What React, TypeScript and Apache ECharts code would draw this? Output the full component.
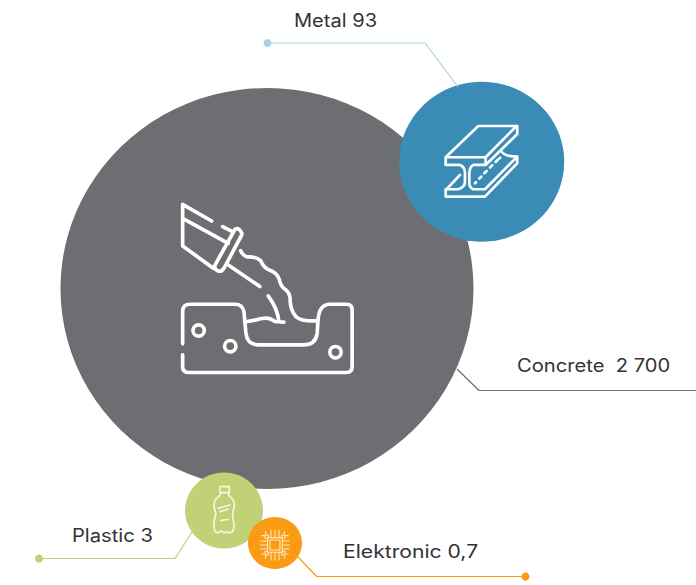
import React, { useEffect, useRef } from "react";
import * as echarts from "echarts";

const W = 696;
const H = 585;

// Data
const materials = ["Concrete", "Metal", "Plastic", "Elektronic"];
const quantities = [2700, 93, 3, 0.7];
const valueLabels = ["2 700", "93", "3", "0,7"];
const labelSeparators = ["  ", " ", " ", " "];

// Layout
const centerX = [267, 481.7, 224, 275];
const centerY = [288.5, 161.7, 510.5, 543];
const widths = [413, 165, 78, 54];
const heights = [401, 160, 76, 52];
const colors = ["#6d6e71", "#3a8bb5", "#c1d176", "#fa9b13"];
const lineColors = ["#6d6e71", "#a5d3e6", "#c1d176", "#fa9b13"];
const connectors = [
  [[457, 369], [479, 390.5], [696, 390.5]],
  [[267.5, 43], [425, 43], [458, 87]],
  [[39, 558.5], [175, 558.5], [192, 532]],
  [[525.5, 576.5], [316.7, 576.5], [298, 557]],
];
const connectorDotIdx = [-1, 0, 0, 0];
const labelX = [517, 294, 72, 343];
const labelY = [365, 21, 535, 552];
const labelStretch = [1.12, 1.115, 1.12, 1.175];

// Icons
const concreteD =
  "M155 93 L68 43 L68 168 L160 235 M68 85 L205 160 M188 110 L218 125 " +
  "M225 118 Q235 112 243 125 Q248 132 244 138 L192 235 Q184 248 172 242 Q160 235 166 224 Z " +
  "M205 225 L300 290 M242 182 Q250 198 262 201 Q290 200 302 212 Q312 235 328 240 Q352 248 358 268 Q362 290 378 300 Q392 312 391 335 Q392 360 408 380 Q425 395 468 393 " +
  "M325 318 C345 345 355 375 357 395 M372 397 L345 395 C320 375 300 390 262 395 " +
  "M68 462 L68 365 Q68 343 90 343 L225 343 Q248 343 252 365 L258 430 Q262 465 295 465 L430 465 Q468 465 472 430 L475 385 Q480 343 510 343 L560 343 Q577 343 577 360 L577 530 Q577 548 560 548 L85 548 Q68 548 68 530 L68 495 " +
  "M99 422 A17 17 0 1 0 133 422 A17 17 0 1 0 99 422 Z M194 469 A17 17 0 1 0 228 469 A17 17 0 1 0 194 469 Z M510 487 A17 17 0 1 0 544 487 A17 17 0 1 0 510 487 Z";
const steelD =
  "M47 142 L145 48 L262 48 L262 72 L167 165 L130 165 Q118 170 118 195 L118 220 Q118 232 130 238 L165 238 L262 140 L262 160 L165 260 L47 260 L47 238 L50 238 L90 195 M47 238 L85 238 Q105 232 105 215 L105 190 Q105 170 90 165 L47 165 L47 142 L167 142 L167 165 M167 142 L258 50 M215 125 Q225 140 262 140";
const steelDotsD =
  "M135 220 L138 217 M148 206 L154 200 M163 190 L170 183 M180 173 L187 166 M197 156 L203 150 M208 146 L211 143";
const bottleD =
  "M120 50 L148 50 L148 68 L120 68 Z M124 68 Q122 75 110 85 Q100 95 103 115 L108 130 L103 150 Q100 170 105 185 Q115 192 125 183 Q133 192 142 185 Q150 192 158 185 Q165 170 160 150 L158 130 L163 110 Q165 90 150 80 Q145 75 145 68 M115 115 L150 105 M120 125 L145 118 M122 152 L145 148";
const chipD =
  "M75 75 H105 V105 H75 Z M68 68 H112 V112 H68 Z " +
  "M78 68 V45 M90 68 V45 M102 68 V45 M70 68 V60 H62 V50 M110 68 V60 H118 V50 " +
  "M78 112 V135 M90 112 V135 M102 112 V135 M70 112 V120 H62 V130 M110 112 V120 H118 V130 " +
  "M68 78 H47 M68 90 H47 M68 102 H47 M68 70 H60 V62 H50 M68 110 H60 V118 H50 " +
  "M112 78 H133 M112 90 H133 M112 102 H133 M112 70 H120 V62 H130 M112 110 H120 V118 H130";

echarts.graphic.registerShape("concreteIcon", echarts.graphic.extendPath(concreteD, {}));
echarts.graphic.registerShape("steelIcon", echarts.graphic.extendPath(steelD, {}));
echarts.graphic.registerShape("steelDots", echarts.graphic.extendPath(steelDotsD, {}));
echarts.graphic.registerShape("bottleIcon", echarts.graphic.extendPath(bottleD, {}));
echarts.graphic.registerShape("chipIcon", echarts.graphic.extendPath(chipD, {}));

const icon = (type: string, x: number, y: number, lineWidth: number, stroke = "#ffffff") => ({
  type,
  x,
  y,
  scaleX: 1 / 3,
  scaleY: 1 / 3,
  z: 20,
  silent: true,
  style: { fill: "none", stroke, lineWidth, lineCap: "round", lineJoin: "round" },
});

export default function App() {
  const ref = useRef<HTMLDivElement>(null);
  useEffect(() => {
    document.body.style.margin = "0";
    const chart = echarts.init(ref.current!, null, { renderer: "svg" });
    const option: any = {
      animation: false,
      backgroundColor: "#ffffff",
      grid: { left: 0, right: 0, top: 0, bottom: 0 },
      xAxis: { type: "value", min: 0, max: W, show: false },
      yAxis: { type: "value", min: 0, max: H, inverse: true, show: false },
      series: [
        {
          type: "scatter",
          z: 2,
          silent: true,
          data: materials.map((name, i) => ({
            name,
            value: [centerX[i], centerY[i], quantities[i]],
            symbolSize: [widths[i], heights[i]],
            itemStyle: { color: colors[i], opacity: 1 },
          })),
        },
        ...materials.map((name, i) => ({
          type: "line",
          name: name + " connector",
          z: 3,
          silent: true,
          showSymbol: false,
          symbol: "none",
          lineStyle: { color: lineColors[i], width: 1.2 },
          data: connectors[i],
        })),
        {
          type: "scatter",
          z: 4,
          silent: true,
          symbolSize: 8,
          data: materials
            .map((_, i) => ({ i, idx: connectorDotIdx[i] }))
            .filter((d) => d.idx >= 0)
            .map((d) => ({
              value: connectors[d.i][d.idx],
              itemStyle: { color: lineColors[d.i], opacity: 1 },
            })),
        },
      ],
      graphic: [
        icon("concreteIcon", 160, 190, 11),
        icon("steelIcon", 430, 110, 8),
        icon("steelDots", 430, 110, 8),
        icon("bottleIcon", 180, 470, 5, "#f4f6e2"),
        icon("chipIcon", 245, 515, 3.2, "#ffe9c4"),
        ...materials.map((name, i) => ({
          type: "text",
          x: labelX[i],
          y: labelY[i],
          scaleX: labelStretch[i],
          z: 20,
          silent: true,
          style: {
            text: name + labelSeparators[i] + valueLabels[i],
            fill: "#333335",
            fontFamily: "Inter",
            fontSize: 18,
            fontWeight: 400,
            textVerticalAlign: "middle",
            textAlign: "left",
          },
        })),
      ],
    };
    chart.setOption(option);
    return () => chart.dispose();
  }, []);
  return <div ref={ref} style={{ width: W, height: H }} />;
}
